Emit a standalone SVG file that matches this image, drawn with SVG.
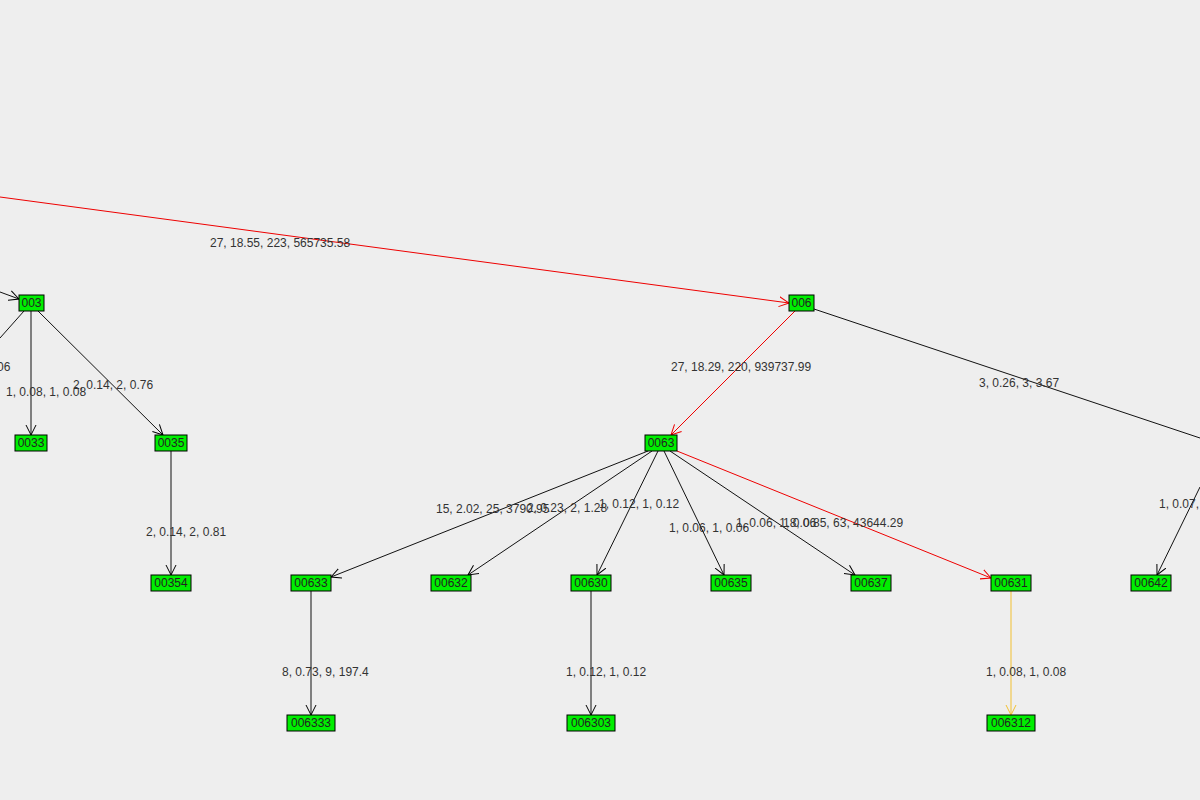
<svg xmlns="http://www.w3.org/2000/svg" width="1200" height="800" viewBox="0 0 1200 800">
<style>
.n rect{fill:#00ee00;stroke:#000;stroke-width:1}
.n text{font-family:"Liberation Sans",Arial,sans-serif;font-size:12px;fill:#222;text-anchor:middle}
.l{font-family:"Liberation Sans",Arial,sans-serif;font-size:12px;fill:#333}
.k{stroke:#111;fill:none}
.r{stroke:#e00;fill:none}
.y{stroke:#f2c030;fill:none}
</style>
<defs>
<marker id="ak" markerWidth="12" markerHeight="12" refX="10" refY="6" orient="auto" markerUnits="userSpaceOnUse"><path d="M0,1 L10,6 L0,11" fill="none" stroke="#000"/></marker>
<marker id="ar" markerWidth="12" markerHeight="12" refX="10" refY="6" orient="auto" markerUnits="userSpaceOnUse"><path d="M0,1 L10,6 L0,11" fill="none" stroke="#e00"/></marker>
<marker id="ay" markerWidth="12" markerHeight="12" refX="10" refY="6" orient="auto" markerUnits="userSpaceOnUse"><path d="M0,1 L10,6 L0,11" fill="none" stroke="#f2c030"/></marker>
</defs>
<rect width="1200" height="800" fill="#eeeeee"/>
<g id="connectors">
<line class="r" x1="0" y1="197" x2="789" y2="303" marker-end="url(#ar)"/>
<line class="k" x1="0" y1="292" x2="19" y2="299" marker-end="url(#ak)"/>
<line class="k" x1="24" y1="311" x2="0" y2="338"/>
<line class="k" x1="31" y1="311" x2="31" y2="435" marker-end="url(#ak)"/>
<line class="k" x1="38" y1="311" x2="163" y2="435" marker-end="url(#ak)"/>
<line class="k" x1="171" y1="451" x2="171" y2="575" marker-end="url(#ak)"/>
<line class="r" x1="795" y1="311" x2="671" y2="435" marker-end="url(#ar)"/>
<line class="k" x1="814" y1="309" x2="1200" y2="438"/>
<line class="k" x1="1200" y1="487" x2="1157" y2="575" marker-end="url(#ak)"/>
<line class="k" x1="648" y1="451" x2="331" y2="577" marker-end="url(#ak)"/>
<line class="k" x1="652" y1="451" x2="468" y2="575" marker-end="url(#ak)"/>
<line class="k" x1="658" y1="451" x2="597" y2="575" marker-end="url(#ak)"/>
<line class="k" x1="664" y1="451" x2="724" y2="575" marker-end="url(#ak)"/>
<line class="k" x1="670" y1="451" x2="855" y2="575" marker-end="url(#ak)"/>
<line class="r" x1="677" y1="451" x2="991" y2="578" marker-end="url(#ar)"/>
<line class="k" x1="311" y1="591" x2="311" y2="715" marker-end="url(#ak)"/>
<line class="k" x1="591" y1="591" x2="591" y2="715" marker-end="url(#ak)"/>
<line class="y" x1="1011" y1="591" x2="1011" y2="715" marker-end="url(#ay)"/>
</g>
<g id="labels" class="l">
<text x="210" y="247">27, 18.55, 223, 565735.58</text>
<text x="-3" y="371">06</text>
<text x="6" y="396">1, 0.08, 1, 0.08</text>
<text x="73" y="389">2, 0.14, 2, 0.76</text>
<text x="146" y="536">2, 0.14, 2, 0.81</text>
<text x="671" y="371">27, 18.29, 220, 939737.99</text>
<text x="979" y="387">3, 0.26, 3, 3.67</text>
<text x="1159" y="508">1, 0.07,</text>
<text x="436" y="513">15, 2.02, 25, 3790.95</text>
<text x="527" y="512">2, 0.23, 2, 1.28</text>
<text x="599" y="508">1, 0.12, 1, 0.12</text>
<text x="669" y="532">1, 0.06, 1, 0.06</text>
<text x="736" y="527">1, 0.06, 1, 0.06</text>
<text x="783" y="527">18, 0.85, 63, 43644.29</text>
<text x="282" y="676">8, 0.73, 9, 197.4</text>
<text x="566" y="676">1, 0.12, 1, 0.12</text>
<text x="986" y="676">1, 0.08, 1, 0.08</text>
</g>
<g id="n003" class="n"><rect x="19" y="295" width="25" height="16"/><text x="31.5" y="307">003</text></g>
<g id="n0033" class="n"><rect x="15" y="435" width="32" height="16"/><text x="31" y="447">0033</text></g>
<g id="n0035" class="n"><rect x="155" y="435" width="32" height="16"/><text x="171" y="447">0035</text></g>
<g id="n00354" class="n"><rect x="151" y="575" width="40" height="16"/><text x="171" y="587">00354</text></g>
<g id="n006" class="n"><rect x="789" y="295" width="25" height="16"/><text x="801.5" y="307">006</text></g>
<g id="n0063" class="n"><rect x="645" y="435" width="32" height="16"/><text x="661" y="447">0063</text></g>
<g id="n00633" class="n"><rect x="291" y="575" width="40" height="16"/><text x="311" y="587">00633</text></g>
<g id="n00632" class="n"><rect x="431" y="575" width="40" height="16"/><text x="451" y="587">00632</text></g>
<g id="n00630" class="n"><rect x="571" y="575" width="40" height="16"/><text x="591" y="587">00630</text></g>
<g id="n00635" class="n"><rect x="711" y="575" width="40" height="16"/><text x="731" y="587">00635</text></g>
<g id="n00637" class="n"><rect x="851" y="575" width="40" height="16"/><text x="871" y="587">00637</text></g>
<g id="n00631" class="n"><rect x="991" y="575" width="40" height="16"/><text x="1011" y="587">00631</text></g>
<g id="n00642" class="n"><rect x="1131" y="575" width="40" height="16"/><text x="1151" y="587">00642</text></g>
<g id="n006333" class="n"><rect x="287" y="715" width="48" height="16"/><text x="311" y="727">006333</text></g>
<g id="n006303" class="n"><rect x="567" y="715" width="48" height="16"/><text x="591" y="727">006303</text></g>
<g id="n006312" class="n"><rect x="987" y="715" width="48" height="16"/><text x="1011" y="727">006312</text></g>
</svg>
